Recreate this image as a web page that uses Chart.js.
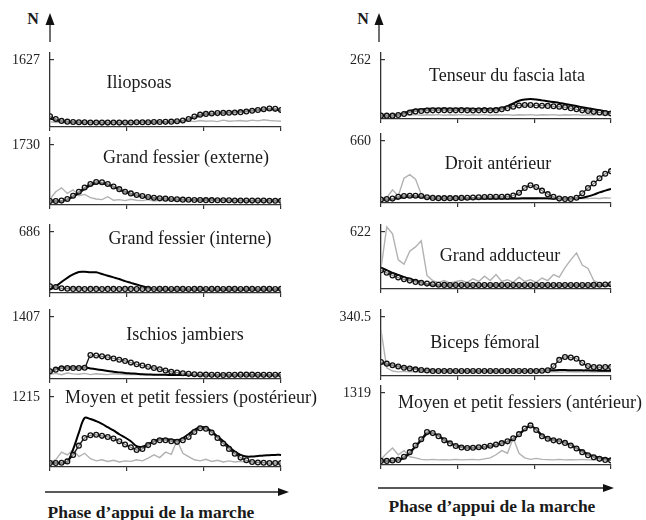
<!DOCTYPE html>
<html>
<head>
<meta charset="utf-8">
<script src="https://cdn.jsdelivr.net/npm/chart.js@4.4.0/dist/chart.umd.min.js"></script>
<style>
body { margin: 0; background: #fff; }
#page { position: relative; width: 646px; height: 520px; overflow: hidden; font-family: "Liberation Serif", serif; color: #1a1a1a; }
#page canvas { position: absolute; }
#page svg { position: absolute; left: 0; top: 0; }
.title { position: absolute; font-size: 18px; white-space: nowrap; transform: translate(-50%, -50%); }
.unit { position: absolute; font-size: 16px; font-weight: bold; transform: translate(-50%, -50%); }
.phase { position: absolute; font-size: 17.5px; font-weight: bold; white-space: nowrap; transform: translate(-50%, -50%); }
</style>
</head>
<body>
<div id="page">
<svg width="646" height="520">
  <!-- axes arrows (N, phase) -->
  <line x1="50" y1="42" x2="50" y2="24" stroke="#222" stroke-width="1.3"/>
  <polygon points="45.5,25 54.5,25 50,13" fill="#111"/>
  <line x1="379" y1="42" x2="379" y2="24" stroke="#222" stroke-width="1.3"/>
  <polygon points="374.5,25 383.5,25 379,13" fill="#111"/>
  <line x1="45" y1="492" x2="280" y2="492" stroke="#222" stroke-width="1.3"/>
  <polygon points="278,488 278,496 289,492" fill="#111"/>
  <line x1="378" y1="488" x2="605" y2="488" stroke="#222" stroke-width="1.3"/>
  <polygon points="603,484 603,492 614,488" fill="#111"/>
</svg>
<div class="unit" style="left:33px;top:19px">N</div>
<div class="unit" style="left:363px;top:19px">N</div>
<div class="phase" style="left:151px;top:512px">Phase d’appui de la marche</div>
<div class="phase" style="left:492px;top:506px">Phase d’appui de la marche</div>
</div>
<script>
// x : phase d'appui (%), 41 points
var phase = [0, 2.5, 5, 7.5, 10, 12.5, 15, 17.5, 20, 22.5, 25, 27.5, 30, 32.5, 35, 37.5, 40,
    42.5, 45, 47.5, 50, 52.5, 55, 57.5, 60, 62.5, 65, 67.5, 70, 72.5, 75, 77.5, 80,
    82.5, 85, 87.5, 90, 92.5, 95, 97.5, 100];
var xTicks = [0, 33.3, 66.7, 100];

var muscles = ["Iliopsoas", "Grand fessier (externe)", "Grand fessier (interne)",
    "Ischios jambiers", "Moyen et petit fessiers (postérieur)",
    "Tenseur du fascia lata", "Droit antérieur", "Grand adducteur",
    "Biceps fémoral", "Moyen et petit fessiers (antérieur)"];
var yTickValues = [1627, 1730, 686, 1407, 1215, 262, 660, 622, 340.5, 1319];
var yTickLabels = ["1627", "1730", "686", "1407", "1215", "262", "660", "622", "340.5", "1319"];

// forces (N)
var iliopsoasMeasured = [180, 110, 60, 40, 30, 25, 25, 20, 20, 15, 15, 20, 15, 20, 20, 25, 25,
    25, 30, 30, 35, 40, 50, 70, 110, 170, 220, 240, 250, 260, 265, 270, 275, 285, 300,
    320, 340, 360, 380, 370, 340];
var iliopsoasModel = [120, 80, 50, 35, 25, 20, 20, 18, 18, 16, 16, 16, 18, 18, 20, 20, 22,
    24, 26, 28, 30, 35, 45, 60, 100, 150, 200, 230, 245, 255, 265, 275, 285, 295, 310,
    325, 340, 355, 365, 355, 320];
var iliopsoasEmg = [40, 20, 30, 10, 20, 15, 10, 20, 10, 15, 10, 20, 15, 10, 20, 15, 25, 15,
    20, 30, 25, 40, 30, 50, 60, 40, 70, 50, 60, 40, 80, 50, 60, 70, 50, 80, 60, 90, 70, 60, 50];

var gfExterneMeasured = [20, 20, 30, 80, 180, 300, 430, 540, 600, 590, 540, 460, 380, 300,
    250, 200, 170, 140, 120, 100, 90, 80, 70, 60, 55, 50, 50, 45, 45, 40, 40, 40, 35, 35,
    30, 30, 30, 30, 25, 25, 25];
var gfExterneModel = [10, 10, 20, 60, 150, 260, 390, 500, 560, 560, 520, 450, 370, 300, 240,
    190, 160, 130, 110, 95, 85, 75, 65, 60, 55, 50, 45, 45, 40, 40, 40, 35, 35, 35, 30,
    30, 30, 30, 30, 30, 30];
var gfExterneEmg = [80, 300, 420, 250, 360, 180, 220, 120, 80, 60, 150, 40, 60, 30, 70, 40,
    30, 60, 20, 40, 30, 50, 20, 30, 80, 40, 120, 60, 100, 40, 80, 30, 20, 40, 20, 30, 20,
    20, 30, 20, 20];

var gfInterneMeasured = [40, 30, 15, 10, 8, 8, 7, 8, 8, 7, 8, 8, 7, 8, 8, 7, 8, 8, 7, 8, 8,
    7, 8, 8, 7, 8, 8, 7, 8, 8, 7, 8, 8, 7, 8, 8, 7, 8, 8, 7, 8];
var gfInterneModel = [0, 40, 90, 140, 180, 210, 212, 205, 205, 185, 165, 145, 125, 100, 80,
    60, 40, 20, 5, 2, 2, 2, 2, 2, 2, 2, 2, 2, 2, 2, 2, 2, 2, 2, 2, 2, 2, 2, 2, 2, 2];
var gfInterneEmg = [10, 5, 15, 5, 10, 5, 8, 4, 10, 5, 6, 4, 8, 5, 6, 4, 8, 5, 6, 4, 8, 5, 6,
    4, 8, 5, 6, 4, 8, 5, 6, 4, 8, 5, 6, 4, 8, 5, 6, 4, 5];

var ischiosMeasured = [100, 140, 170, 180, 180, 180, 185, 490, 480, 460, 440, 410, 380, 350,
    310, 270, 240, 210, 180, 150, 120, 90, 70, 55, 40, 30, 25, 20, 15, 15, 12, 15, 15, 20,
    20, 20, 15, 15, 15, 15, 15];
var ischiosModel = [80, 150, 180, 190, 190, 190, 190, 170, 150, 130, 110, 90, 75, 60, 50, 40,
    30, 25, 20, 18, 15, 14, 13, 12, 12, 12, 12, 12, 12, 12, 12, 12, 12, 12, 12, 12, 12, 12,
    12, 12, 12];
var ischiosEmg = [30, 50, 20, 60, 40, 30, 50, 20, 40, 30, 20, 40, 30, 20, 30, 20, 30, 20, 25,
    20, 30, 20, 25, 20, 30, 20, 25, 20, 30, 20, 25, 20, 30, 20, 25, 20, 30, 20, 25, 20, 20];

var mpPostMeasured = [0, 0, 5, 30, 150, 320, 460, 510, 520, 500, 480, 450, 400, 340, 290, 240,
    260, 330, 390, 420, 420, 400, 390, 420, 480, 570, 640, 630, 560, 460, 360, 260, 170,
    100, 50, 20, 10, 5, 0, 0, 0];
var mpPostModel = [0, 0, 5, 20, 250, 560, 830, 810, 770, 720, 660, 600, 530, 470, 400, 310,
    300, 350, 400, 440, 440, 430, 420, 460, 530, 610, 660, 650, 580, 490, 400, 300, 210,
    150, 120, 120, 130, 140, 145, 150, 150];
var mpPostEmg = [20, 60, 200, 150, 240, 120, 180, 80, 40, 60, 30, 50, 20, 40, 30, 60, 40, 90,
    150, 100, 200, 160, 420, 180, 120, 60, 40, 70, 30, 50, 20, 40, 20, 30, 20, 10, 20, 10,
    10, 10, 10];

var tenseurMeasured = [0, 0, 0, 3, 8, 15, 20, 22, 24, 25, 25, 26, 25, 25, 26, 25, 24, 25, 26,
    25, 26, 30, 35, 42, 48, 50, 50, 48, 47, 46, 44, 42, 40, 35, 30, 25, 22, 18, 15, 12, 10];
var tenseurModel = [0, 0, 0, 5, 12, 22, 28, 30, 32, 33, 33, 33, 33, 33, 32, 32, 32, 31, 31, 31,
    32, 36, 45, 58, 70, 76, 78, 76, 72, 68, 64, 60, 55, 50, 45, 40, 35, 30, 26, 20, 14];
var tenseurEmg = [5, 3, 6, 2, 4, 3, 5, 2, 4, 3, 5, 2, 4, 3, 5, 2, 4, 3, 5, 2, 4, 3, 5, 2, 4,
    3, 5, 2, 4, 3, 5, 2, 4, 3, 5, 2, 4, 3, 5, 2, 4];

var droitMeasured = [0, 5, 10, 30, 40, 42, 42, 40, 25, 18, 15, 15, 15, 15, 18, 20, 22, 25, 28,
    30, 30, 30, 32, 45, 75, 130, 160, 140, 100, 60, 30, 10, 5, 5, 20, 70, 130, 180, 240,
    290, 320];
var droitModel = [0, 0, 5, 15, 25, 30, 30, 28, 20, 15, 12, 12, 12, 12, 12, 12, 12, 12, 12, 12,
    12, 12, 12, 12, 12, 14, 15, 15, 14, 13, 12, 12, 12, 12, 15, 20, 35, 55, 80, 100, 120];
var droitEmg = [5, 20, 110, 40, 240, 280, 230, 60, 30, 10, 5, 10, 5, 10, 5, 8, 5, 10, 5, 8, 5,
    10, 8, 5, 10, 5, 8, 5, 10, 5, 8, 10, 5, 8, 10, 12, 10, 15, 12, 20, 15];

var adducteurMeasured = [180, 150, 120, 95, 75, 60, 45, 35, 25, 18, 12, 10, 8, 8, 8, 8, 8, 8,
    8, 8, 8, 8, 8, 8, 8, 8, 8, 8, 8, 8, 8, 8, 8, 8, 8, 8, 8, 10, 12, 15, 18];
var adducteurModel = [210, 180, 150, 125, 100, 80, 60, 40, 20, 10, 5, 5, 5, 5, 5, 5, 5, 5, 5,
    5, 5, 5, 5, 5, 5, 5, 5, 5, 5, 5, 5, 5, 5, 5, 5, 5, 5, 5, 5, 5, 5];
var adducteurEmg = [200, 680, 600, 300, 250, 400, 450, 520, 120, 60, 40, 60, 30, 50, 60, 40,
    80, 50, 110, 60, 130, 50, 70, 40, 100, 50, 70, 40, 90, 60, 130, 100, 210, 300, 380, 240,
    200, 60, 30, 20, 20];

var bicepsMeasured = [65, 55, 45, 38, 30, 25, 20, 16, 13, 10, 10, 10, 10, 10, 10, 10, 10, 10,
    10, 10, 10, 10, 10, 10, 10, 10, 10, 10, 12, 15, 40, 78, 96, 92, 85, 60, 40, 35, 33, 35, 35];
var bicepsModel = [60, 52, 45, 38, 32, 27, 22, 18, 15, 13, 12, 11, 11, 10, 10, 10, 10, 10, 10,
    10, 10, 10, 10, 10, 10, 10, 11, 12, 13, 14, 15, 16, 16, 15, 15, 14, 14, 13, 12, 12, 12];
var bicepsEmg = [260, 30, 10, 5, 8, 5, 6, 4, 5, 6, 4, 5, 6, 4, 5, 6, 4, 5, 6, 4, 5, 6, 4, 5,
    6, 4, 5, 6, 4, 5, 6, 4, 5, 6, 4, 5, 6, 4, 5, 6, 5];

var mpAntMeasured = [0, 0, 10, 20, 80, 170, 300, 420, 560, 540, 480, 400, 340, 290, 260, 250,
    255, 265, 275, 295, 320, 345, 380, 440, 520, 630, 690, 600, 480, 430, 400, 380, 350,
    300, 240, 170, 110, 70, 40, 20, 10];
var mpAntModel = [0, 0, 5, 15, 60, 150, 280, 400, 530, 540, 490, 410, 350, 300, 270, 255, 255,
    260, 270, 290, 315, 340, 375, 430, 510, 610, 680, 610, 500, 440, 410, 385, 355, 310,
    250, 190, 130, 90, 60, 40, 30];
var mpAntEmg = [30, 150, 250, 120, 200, 80, 60, 30, 20, 30, 20, 25, 20, 30, 20, 25, 30, 20,
    40, 60, 120, 200, 150, 445, 150, 60, 30, 50, 30, 25, 20, 30, 20, 25, 20, 30, 20, 25, 20,
    20, 20];

var measuredSeries = [iliopsoasMeasured, gfExterneMeasured, gfInterneMeasured, ischiosMeasured,
    mpPostMeasured, tenseurMeasured, droitMeasured, adducteurMeasured, bicepsMeasured, mpAntMeasured];
var modelSeries = [iliopsoasModel, gfExterneModel, gfInterneModel, ischiosModel, mpPostModel,
    tenseurModel, droitModel, adducteurModel, bicepsModel, mpAntModel];
var emgSeries = [iliopsoasEmg, gfExterneEmg, gfInterneEmg, ischiosEmg, mpPostEmg,
    tenseurEmg, droitEmg, adducteurEmg, bicepsEmg, mpAntEmg];

// layout of each small panel (pixels): column, y of the top tick, y of the x axis
var boxes = [
    {col: 0, tickY: 60, axisY: 127, tx: 139, ty: 82},
    {col: 0, tickY: 145, axisY: 205, tx: 186, ty: 157},
    {col: 0, tickY: 232, axisY: 293, tx: 190, ty: 238},
    {col: 0, tickY: 317, axisY: 379, tx: 185, ty: 334},
    {col: 0, tickY: 397, axisY: 467, tx: 191, ty: 397},
    {col: 1, tickY: 60, axisY: 119, tx: 507, ty: 75},
    {col: 1, tickY: 141, axisY: 203, tx: 498, ty: 163},
    {col: 1, tickY: 232, axisY: 289, tx: 500, ty: 255},
    {col: 1, tickY: 317, axisY: 376, tx: 485, ty: 342},
    {col: 1, tickY: 393, axisY: 465, tx: 520, ty: 402}
];
var cols = [{left: 0, axisW: 50}, {left: 330, axisW: 51}];

Chart.defaults.font.family = '"Liberation Serif", "Times New Roman", serif';
Chart.defaults.color = "#222";

function toPoints(arr) {
    return phase.map(function(p, i) { return {x: p, y: arr[i]}; });
}

var page = document.getElementById("page");
var PAD_TOP = 10, PAD_BOTTOM = 6, PAD_RIGHT = 19, X_H = 6, W = 300;

for (var k = 0; k < muscles.length; k++) {
    (function(k) {
        var b = boxes[k];
        var col = cols[b.col];
        var tick = yTickValues[k];
        var areaTop = b.tickY - 7;
        var h = b.axisY - b.tickY;
        var H = b.axisY - areaTop;
        var yMin = -0.06 * tick;
        var yMax = yMin + (tick - yMin) * H / h;

        var canvas = document.createElement("canvas");
        canvas.width = W;
        canvas.height = PAD_TOP + H + X_H + PAD_BOTTOM;
        canvas.style.left = col.left + "px";
        canvas.style.top = (areaTop - PAD_TOP) + "px";
        page.appendChild(canvas);

        var t = document.createElement("div");
        t.className = "title";
        t.style.left = b.tx + "px";
        t.style.top = b.ty + "px";
        t.textContent = muscles[k];
        page.appendChild(t);

        new Chart(canvas, {
            type: "line",
            data: {
                datasets: [{
                    label: "mesuré",
                    data: toPoints(measuredSeries[k]),
                    borderColor: "#111",
                    borderWidth: 1.3,
                    pointRadius: 2.4,
                    pointBorderWidth: 1.3,
                    pointBorderColor: "#111",
                    pointBackgroundColor: "rgba(255,255,255,0.5)",
                    tension: 0.2
                }, {
                    label: "modèle",
                    data: toPoints(modelSeries[k]),
                    borderColor: "#000",
                    borderWidth: 2,
                    pointRadius: 0,
                    tension: 0.35
                }, {
                    label: "EMG",
                    data: toPoints(emgSeries[k]),
                    borderColor: "#b2b2b2",
                    borderWidth: 1.4,
                    pointRadius: 0,
                    tension: 0
                }]
            },
            options: {
                responsive: false,
                animation: false,
                events: [],
                layout: {padding: {left: 0, right: PAD_RIGHT, top: PAD_TOP, bottom: PAD_BOTTOM}},
                plugins: {legend: {display: false}, tooltip: {enabled: false}},
                scales: {
                    x: {
                        type: "linear", min: 0, max: 100,
                        afterBuildTicks: function(s) { s.ticks = xTicks.map(function(v) { return {value: v}; }); },
                        afterFit: function(s) { s.height = X_H; },
                        ticks: {display: false},
                        grid: {drawOnChartArea: false, tickLength: 4, color: "#333", lineWidth: 1.2},
                        border: {color: "#333", width: 1.3}
                    },
                    y: {
                        min: yMin, max: yMax,
                        afterBuildTicks: function(s) { s.ticks = [{value: tick}]; },
                        afterFit: function(s) { s.width = col.axisW; s.paddingTop = 0; s.paddingBottom = 0; },
                        ticks: {callback: function() { return yTickLabels[k]; }, font: {size: 14}, color: "#222", padding: 14},
                        grid: {drawOnChartArea: false, tickLength: -4, color: "#333", lineWidth: 1.2},
                        border: {color: "#333", width: 1.3}
                    }
                }
            }
        });
    })(k);
}
</script>
</body>
</html>
